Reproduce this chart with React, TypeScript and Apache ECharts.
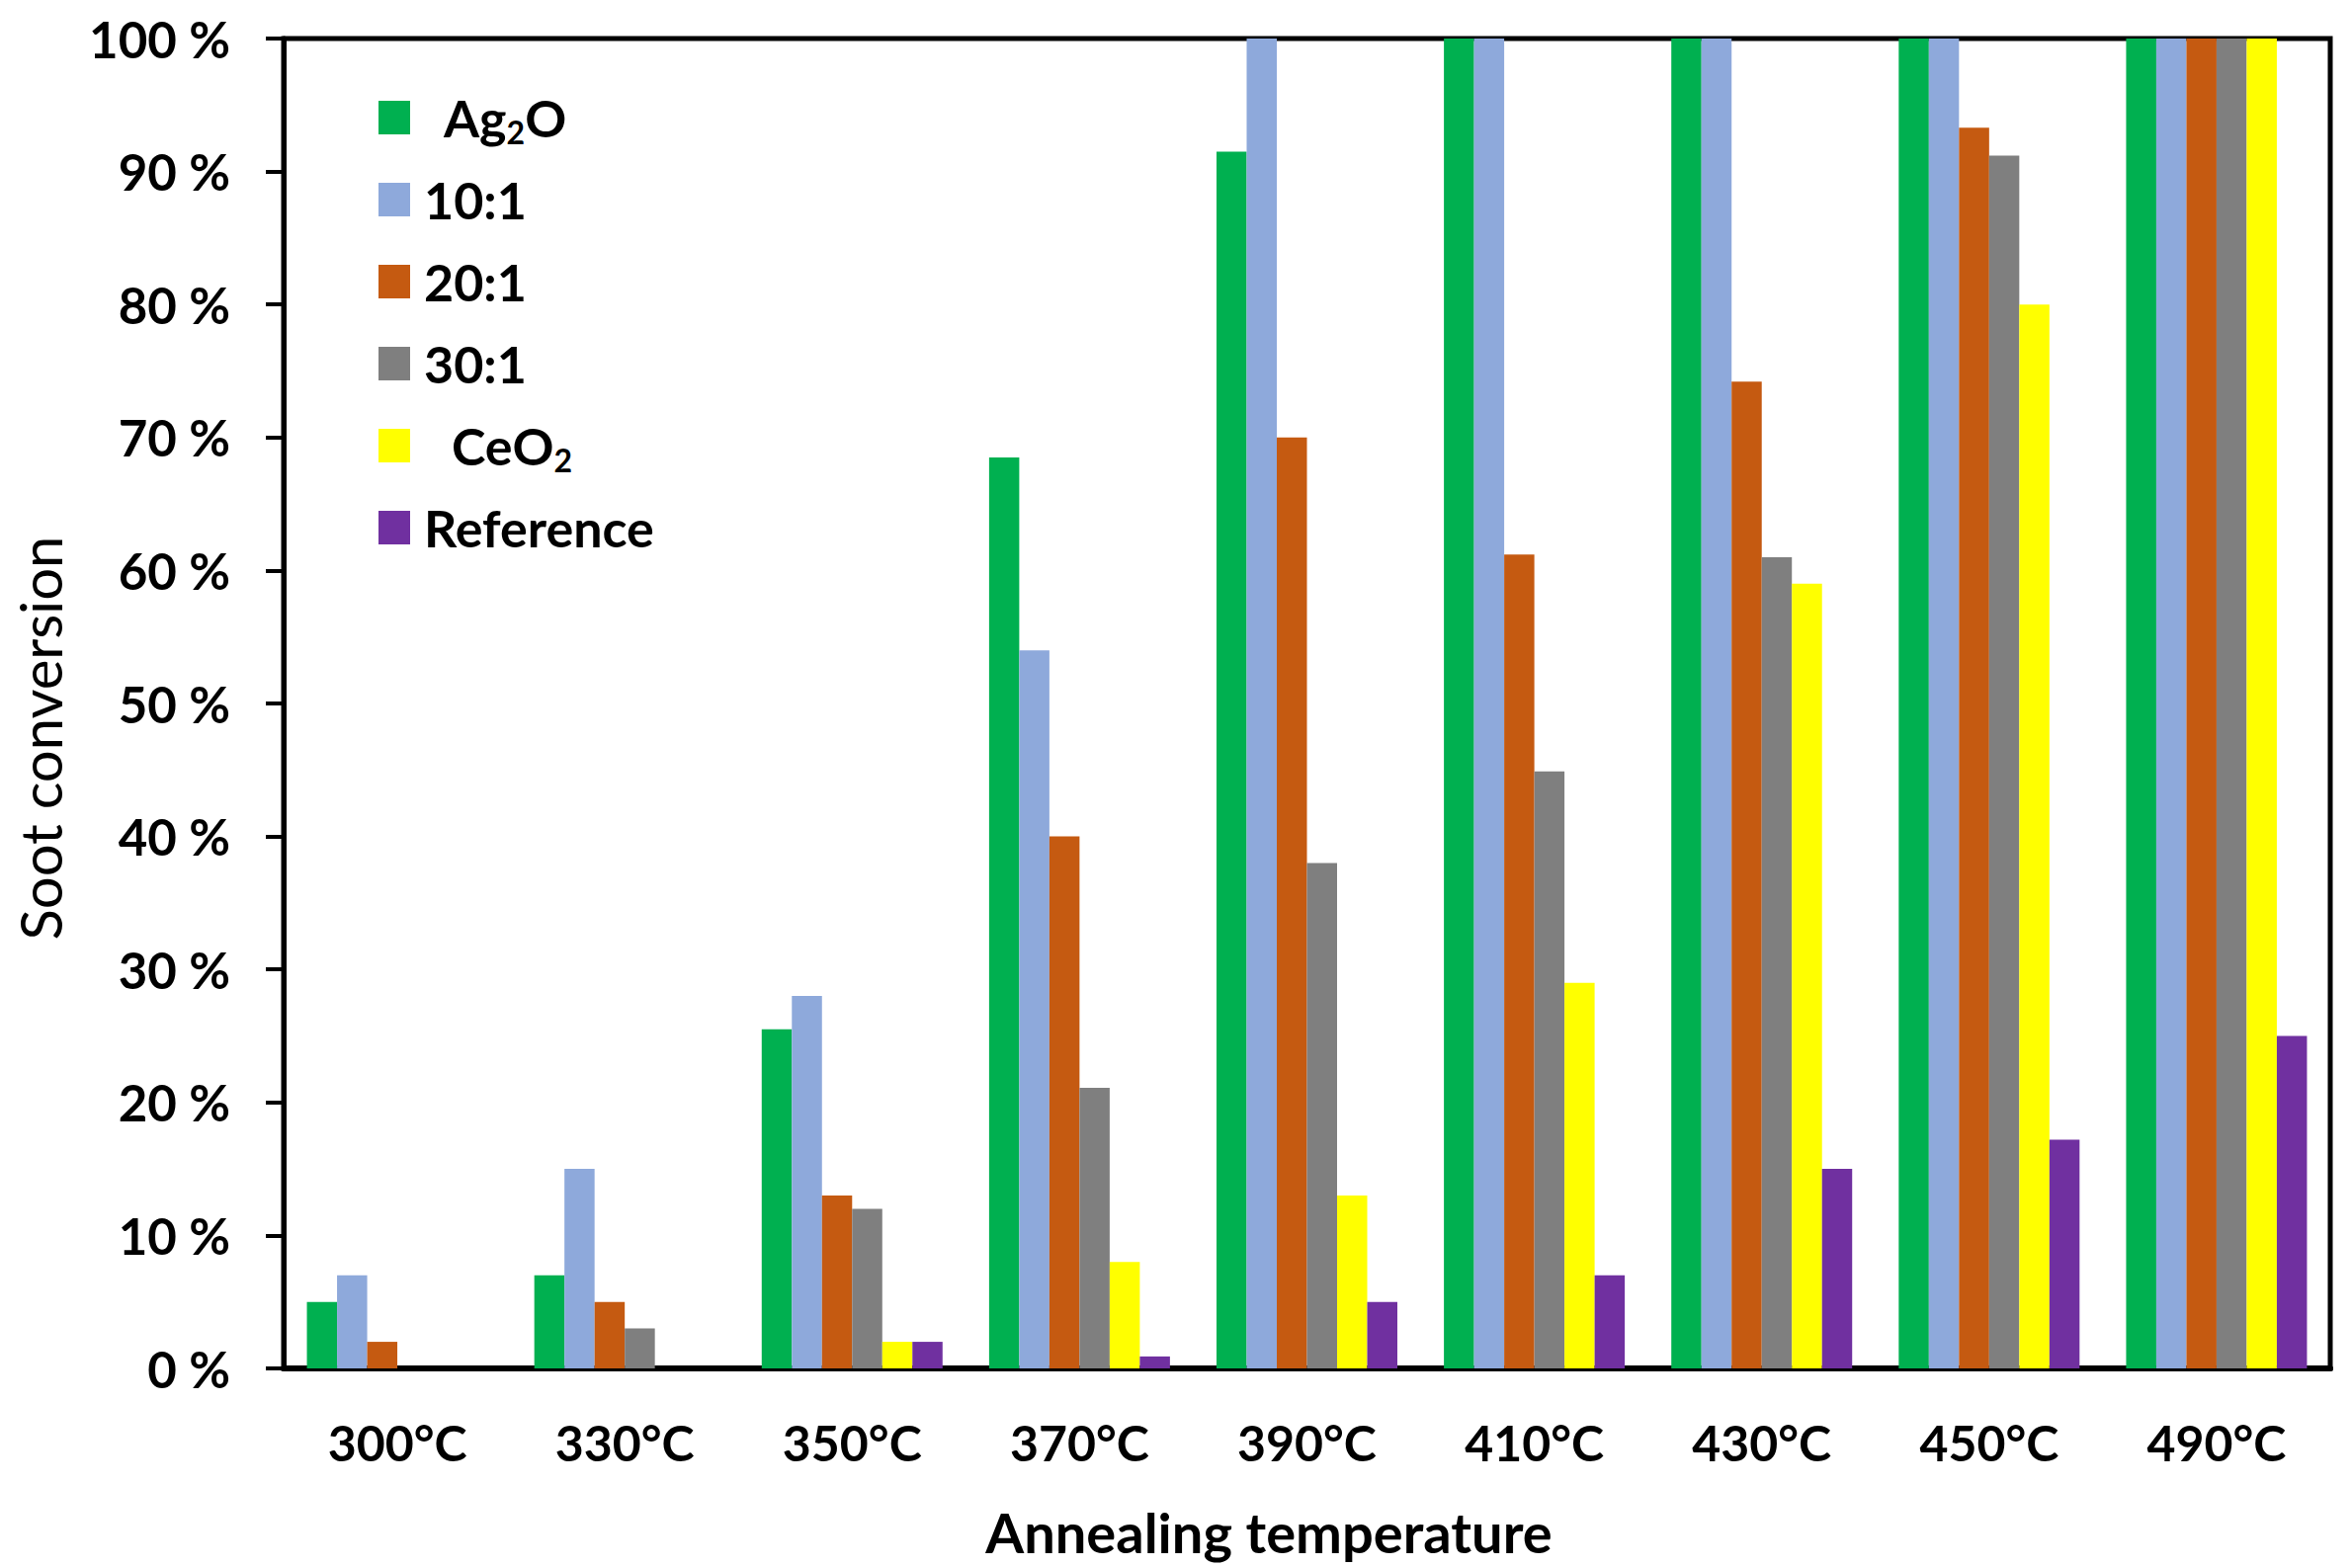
import React, { useEffect, useRef } from "react";
import * as echarts from "echarts";

const categories = ["300°C", "330°C", "350°C", "370°C", "390°C", "410°C", "430°C", "450°C", "490°C"];
const seriesNames = ["Ag2O", "10:1", "20:1", "30:1", "CeO2", "Reference"];
const ag2o = [5, 7, 25.5, 68.5, 91.5, 100, 100, 100, 100];
const ratio10 = [7, 15, 28, 54, 100, 100, 100, 100, 100];
const ratio20 = [2, 5, 13, 40, 70, 61.2, 74.2, 93.3, 100];
const ratio30 = [0, 3, 12, 21.1, 38, 44.9, 61, 91.2, 100];
const ceo2 = [0, 0, 2, 8, 13, 29, 59, 80, 100];
const reference = [0, 0, 2, 0.9, 5, 7, 15, 17.2, 25];
const colors = ["#00B050", "#8EA9DB", "#C55A11", "#7F7F7F", "#FFFF00", "#7030A0"];
const yTicks = { min: 0, max: 100, interval: 10 };

const FONT = "Lato, 'Open Sans', sans-serif";

export default function App() {
  const ref = useRef<HTMLDivElement>(null);
  useEffect(() => {
    document.body.style.margin = "0";
    const chart = echarts.init(ref.current!, null, { renderer: "svg" });
    const values = [ag2o, ratio10, ratio20, ratio30, ceo2, reference];
    const legendFmt = (name: string) => {
      if (name === "Ag2O") return "{a|Ag}{sub|2}{n|O}";
      if (name === "CeO2") return "{c|CeO}{sub|2}";
      return "{p|" + name + "}";
    };
    const base = { fontFamily: FONT, fontWeight: "bold", fontSize: 52, color: "#000", lineHeight: 60 };
    chart.setOption({
      animation: false,
      backgroundColor: "#fff",
      grid: {
        left: 287,
        right: 21,
        top: 39,
        bottom: 202,
        show: true,
        borderColor: "#000",
        borderWidth: 5,
        outerBoundsMode: "none",
        containLabel: false,
      },
      legend: {
        orient: "vertical",
        left: 383,
        top: 89,
        padding: 0,
        itemWidth: 32,
        itemHeight: 34,
        itemGap: 23,
        icon: "rect",
        selectedMode: false,
        data: seriesNames,
        formatter: legendFmt,
        textStyle: {
          ...base,
          rich: {
            p: { ...base, padding: [0, 0, 0, 9] },
            a: { ...base, padding: [0, 0, 0, 29] },
            c: { ...base, padding: [0, 0, 0, 37] },
            n: { ...base },
            sub: { fontFamily: FONT, fontWeight: "bold", fontSize: 32, color: "#000", verticalAlign: "bottom", lineHeight: 18 },
          },
        },
      },
      xAxis: {
        type: "category",
        data: categories,
        axisLine: { show: true, lineStyle: { color: "#000", width: 6 } },
        axisTick: { show: false },
        axisLabel: {
          show: true,
          interval: 0,
          margin: 50,
          fontFamily: FONT,
          fontWeight: "bold",
          fontSize: 50,
          color: "#000",
        },
        splitLine: { show: false },
      },
      yAxis: {
        type: "value",
        min: yTicks.min,
        max: yTicks.max,
        interval: yTicks.interval,
        axisLine: { show: true, lineStyle: { color: "#000", width: 5 } },
        axisTick: { show: true, inside: false, length: 18, lineStyle: { color: "#000", width: 4 } },
        axisLabel: {
          show: true,
          margin: 54,
          formatter: "{value} %",
          fontFamily: FONT,
          fontWeight: "bold",
          fontSize: 51,
          color: "#000",
        },
        splitLine: { show: false },
      },
      series: seriesNames.map((name, i) => ({
        name,
        type: "bar",
        data: values[i],
        barWidth: 30.5,
        barGap: "0%",
        itemStyle: { color: colors[i] },
      })),
      graphic: [
        {
          type: "text",
          x: 1284,
          y: 1550,
          style: {
            text: "Annealing temperature",
            fontFamily: FONT,
            fontWeight: "bold",
            fontSize: 56,
            fill: "#000",
            align: "center",
            verticalAlign: "middle",
          },
        },
        {
          type: "text",
          x: 40,
          y: 747,
          rotation: Math.PI / 2,
          style: {
            text: "Soot conversion",
            fontFamily: FONT,
            fontWeight: "normal",
            fontSize: 58,
            fill: "#000",
            align: "center",
            verticalAlign: "middle",
          },
        },
      ],
    });
    return () => chart.dispose();
  }, []);
  return <div ref={ref} style={{ position: "fixed", left: 0, top: 0, width: 2379, height: 1587 }} />;
}
